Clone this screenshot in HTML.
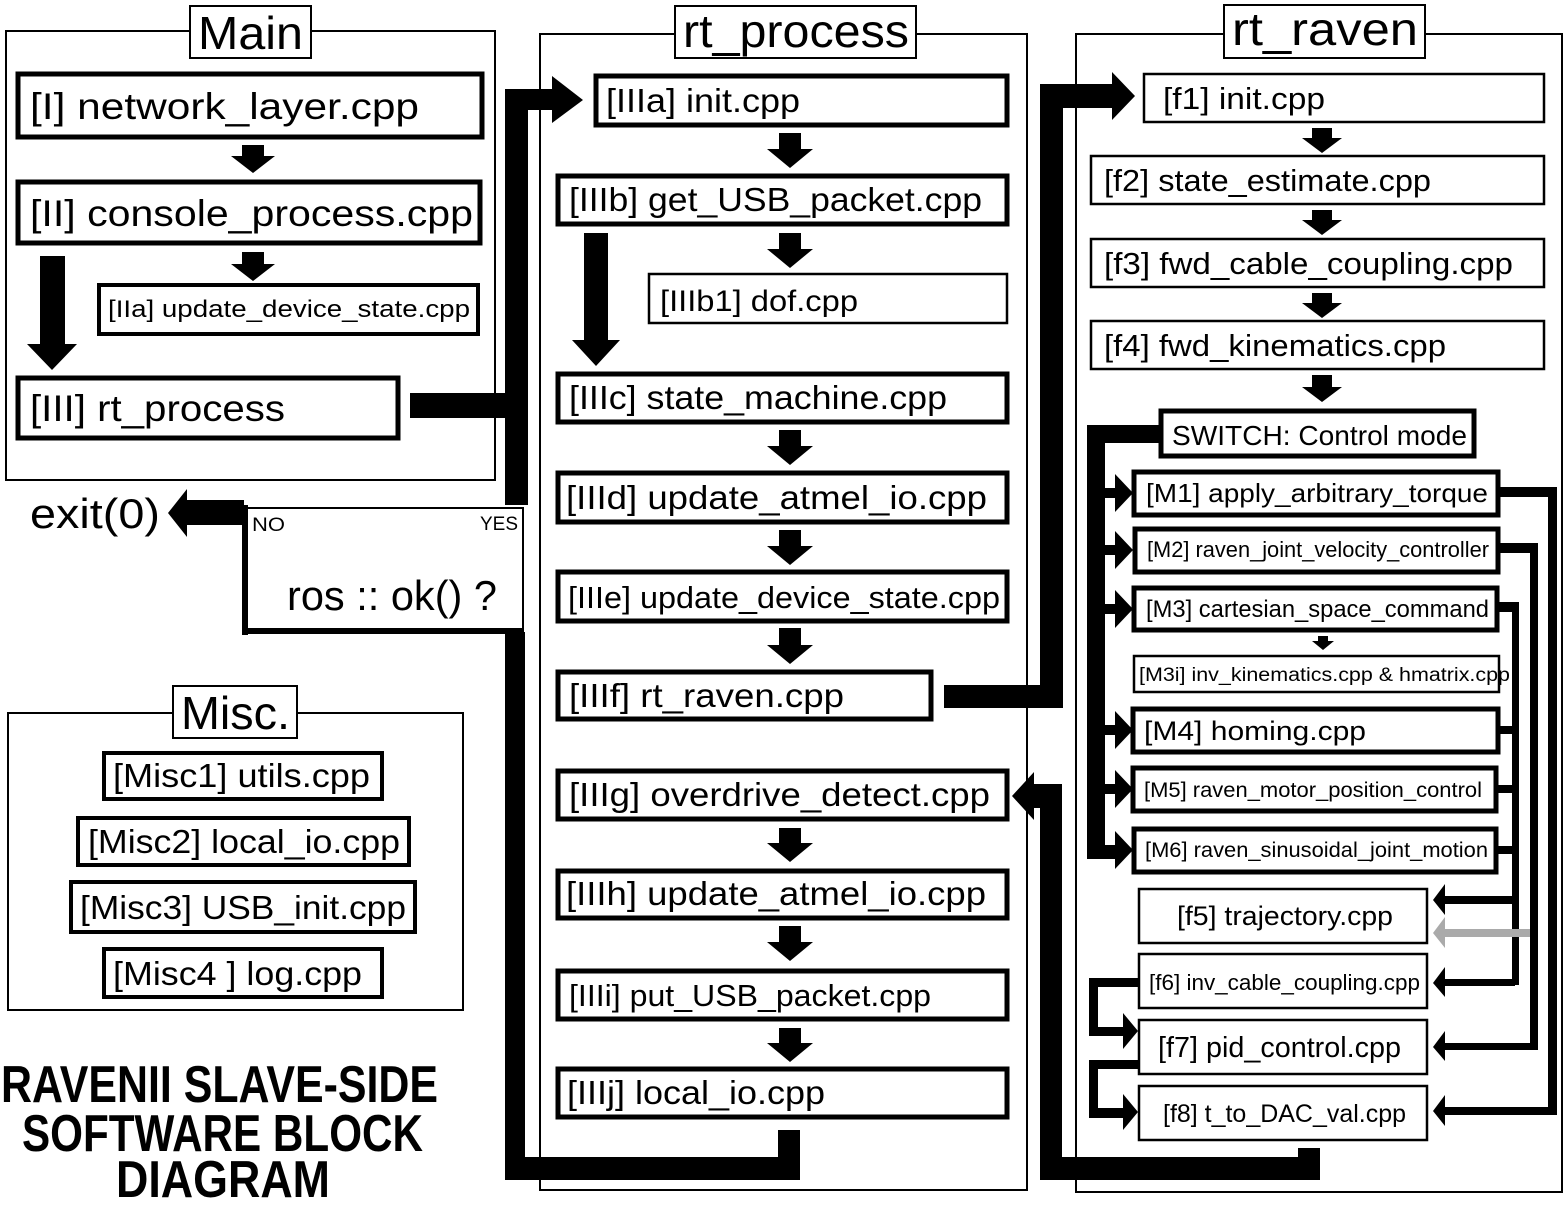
<!DOCTYPE html>
<html><head><meta charset="utf-8"><style>
html,body{margin:0;padding:0;background:#fff}
svg{display:block}
text{font-family:"Liberation Sans",sans-serif;fill:#000}
</style></head><body>
<svg width="1564" height="1206" viewBox="0 0 1564 1206" xmlns="http://www.w3.org/2000/svg">
<g fill="none" stroke="#000">
<!-- frames -->
<rect x="6" y="31" width="489" height="449" stroke-width="2"/>
<rect x="540" y="34" width="487" height="1156" stroke-width="2"/>
<rect x="1076" y="34" width="486" height="1158" stroke-width="2"/>
<rect x="8" y="713" width="455" height="297" stroke-width="2"/>
</g>
<g fill="#fff" stroke="#000" stroke-width="2">
<rect x="190" y="6" width="121" height="52"/>
<rect x="675" y="6" width="241" height="52"/>
<rect x="1224" y="5" width="201" height="53"/>
<rect x="173" y="686" width="124" height="52"/>
</g>
<g font-size="46">
<text x="198" y="49" textLength="105" lengthAdjust="spacingAndGlyphs">Main</text>
<text x="683" y="47" textLength="226" lengthAdjust="spacingAndGlyphs">rt_process</text>
<text x="1232" y="45" textLength="186" lengthAdjust="spacingAndGlyphs">rt_raven</text>
<text x="181" y="729" textLength="109" lengthAdjust="spacingAndGlyphs">Misc.</text>
</g>

<!-- thick boxes -->
<g fill="none" stroke="#000" stroke-width="5">
<rect x="18" y="74" width="464" height="63"/>
<rect x="18" y="182" width="462" height="61"/>
<rect x="18" y="378" width="380" height="60"/>
<rect x="596" y="76" width="411" height="49"/>
<rect x="558" y="176" width="449" height="48"/>
<rect x="558" y="374" width="449" height="48"/>
<rect x="558" y="473" width="449" height="49"/>
<rect x="558" y="572" width="449" height="49"/>
<rect x="558" y="672" width="373" height="47"/>
<rect x="558" y="771" width="449" height="48"/>
<rect x="558" y="871" width="449" height="47"/>
<rect x="558" y="971" width="449" height="48"/>
<rect x="558" y="1069" width="449" height="48"/>
<rect x="1161" y="411" width="313" height="45"/>
<rect x="1134" y="472" width="364" height="43"/>
<rect x="1135" y="529" width="363" height="43"/>
<rect x="1134" y="588" width="363" height="42"/>
<rect x="1133" y="709" width="365" height="43"/>
<rect x="1133" y="768" width="363" height="43"/>
<rect x="1134" y="829" width="362" height="43"/>
</g>
<g fill="none" stroke="#000" stroke-width="4">
<rect x="99" y="285" width="379" height="49"/>
<rect x="104" y="753" width="278" height="46"/>
<rect x="78" y="818" width="331" height="47"/>
<rect x="71" y="882" width="344" height="50"/>
<rect x="104" y="949" width="278" height="48"/>
</g>
<g fill="none" stroke="#000" stroke-width="2.5">
<rect x="649" y="274" width="358" height="49"/>
<rect x="1144" y="74" width="400" height="48"/>
<rect x="1091" y="156" width="453" height="48"/>
<rect x="1091" y="239" width="453" height="48"/>
<rect x="1091" y="321" width="453" height="48"/>
<rect x="1134" y="656" width="365" height="36"/>
<rect x="1139" y="889" width="288" height="54"/>
<rect x="1139" y="954" width="288" height="54"/>
<rect x="1139" y="1020" width="288" height="54"/>
<rect x="1139" y="1086" width="288" height="54"/>
</g>
<!-- ros box -->
<rect x="244" y="507" width="279" height="2" fill="#000"/>
<rect x="522" y="507" width="2" height="126" fill="#000"/>
<rect x="242" y="505" width="6" height="130" fill="#000"/>
<rect x="242" y="628" width="282" height="6" fill="#000"/>

<!-- box text -->
<g font-size="37">
<text x="30" y="119" textLength="389" lengthAdjust="spacingAndGlyphs">[I] network_layer.cpp</text>
<text x="30" y="226" textLength="443" lengthAdjust="spacingAndGlyphs">[II] console_process.cpp</text>
<text x="30" y="421" textLength="255" lengthAdjust="spacingAndGlyphs">[III] rt_process</text>
</g>
<text x="108" y="317" font-size="24" textLength="362" lengthAdjust="spacingAndGlyphs">[IIa] update_device_state.cpp</text>
<g font-size="33">
<text x="606" y="112" textLength="194" lengthAdjust="spacingAndGlyphs">[IIIa] init.cpp</text>
<text x="569" y="211" textLength="413" lengthAdjust="spacingAndGlyphs">[IIIb] get_USB_packet.cpp</text>
<text x="660" y="311" font-size="30" textLength="198" lengthAdjust="spacingAndGlyphs">[IIIb1] dof.cpp</text>
<text x="569" y="409" textLength="378" lengthAdjust="spacingAndGlyphs">[IIIc] state_machine.cpp</text>
<text x="566" y="509" textLength="421" lengthAdjust="spacingAndGlyphs">[IIId] update_atmel_io.cpp</text>
<text x="568" y="608" font-size="31" textLength="432" lengthAdjust="spacingAndGlyphs">[IIIe] update_device_state.cpp</text>
<text x="569" y="707" textLength="275" lengthAdjust="spacingAndGlyphs">[IIIf] rt_raven.cpp</text>
<text x="569" y="806" textLength="421" lengthAdjust="spacingAndGlyphs">[IIIg] overdrive_detect.cpp</text>
<text x="566" y="905" textLength="420" lengthAdjust="spacingAndGlyphs">[IIIh] update_atmel_io.cpp</text>
<text x="569" y="1006" font-size="31" textLength="362" lengthAdjust="spacingAndGlyphs">[IIIi] put_USB_packet.cpp</text>
<text x="567" y="1104" textLength="258" lengthAdjust="spacingAndGlyphs">[IIIj] local_io.cpp</text>
</g>
<g font-size="31">
<text x="1163" y="109" textLength="162" lengthAdjust="spacingAndGlyphs">[f1] init.cpp</text>
<text x="1104" y="191" textLength="327" lengthAdjust="spacingAndGlyphs">[f2] state_estimate.cpp</text>
<text x="1104" y="274" textLength="409" lengthAdjust="spacingAndGlyphs">[f3] fwd_cable_coupling.cpp</text>
<text x="1104" y="356" textLength="342" lengthAdjust="spacingAndGlyphs">[f4] fwd_kinematics.cpp</text>
</g>
<text x="1172" y="445" font-size="28" textLength="295" lengthAdjust="spacingAndGlyphs">SWITCH: Control mode</text>
<text x="1146" y="502" font-size="26" textLength="342" lengthAdjust="spacingAndGlyphs">[M1] apply_arbitrary_torque</text>
<text x="1147" y="557" font-size="22" textLength="342" lengthAdjust="spacingAndGlyphs">[M2] raven_joint_velocity_controller</text>
<text x="1146" y="617" font-size="24" textLength="343" lengthAdjust="spacingAndGlyphs">[M3] cartesian_space_command</text>
<text x="1139" y="681" font-size="19" textLength="371" lengthAdjust="spacingAndGlyphs">[M3i] inv_kinematics.cpp  &amp;  hmatrix.cpp</text>
<text x="1144" y="740" font-size="27" textLength="222" lengthAdjust="spacingAndGlyphs">[M4]  homing.cpp</text>
<text x="1144" y="797" font-size="21" textLength="338" lengthAdjust="spacingAndGlyphs">[M5] raven_motor_position_control</text>
<text x="1145" y="857" font-size="21" textLength="343" lengthAdjust="spacingAndGlyphs">[M6] raven_sinusoidal_joint_motion</text>
<text x="1177" y="925" font-size="27" textLength="216" lengthAdjust="spacingAndGlyphs">[f5] trajectory.cpp</text>
<text x="1149" y="990" font-size="22" textLength="271" lengthAdjust="spacingAndGlyphs">[f6] inv_cable_coupling.cpp</text>
<text x="1158" y="1057" font-size="29" textLength="243" lengthAdjust="spacingAndGlyphs">[f7] pid_control.cpp</text>
<text x="1163" y="1122" font-size="25" textLength="243" lengthAdjust="spacingAndGlyphs">[f8] t_to_DAC_val.cpp</text>
<g font-size="33">
<text x="113" y="787" textLength="257" lengthAdjust="spacingAndGlyphs">[Misc1] utils.cpp</text>
<text x="88" y="853" textLength="312" lengthAdjust="spacingAndGlyphs">[Misc2] local_io.cpp</text>
<text x="80" y="919" textLength="326" lengthAdjust="spacingAndGlyphs">[Misc3] USB_init.cpp</text>
<text x="113" y="985" textLength="249" lengthAdjust="spacingAndGlyphs">[Misc4 ] log.cpp</text>
</g>
<text x="30" y="528" font-size="42" textLength="130" lengthAdjust="spacingAndGlyphs">exit(0)</text>
<text x="252" y="531" font-size="19" textLength="33" lengthAdjust="spacingAndGlyphs">NO</text>
<text x="480" y="530" font-size="19" textLength="38" lengthAdjust="spacingAndGlyphs">YES</text>
<text x="287" y="610" font-size="42" textLength="210" lengthAdjust="spacingAndGlyphs">ros :: ok() ?</text>
<g font-size="52" font-weight="bold">
<text x="1" y="1102" textLength="437" lengthAdjust="spacingAndGlyphs">RAVENII SLAVE-SIDE</text>
<text x="22" y="1151" textLength="401" lengthAdjust="spacingAndGlyphs">SOFTWARE BLOCK</text>
<text x="116" y="1197" textLength="214" lengthAdjust="spacingAndGlyphs">DIAGRAM</text>
</g>

<!-- connectors -->
<g fill="#000">
<!-- small down arrows: shaft 22 wide, head 44 wide -->
<path d="M242 145h22v11h11l-22 17l-22-17h11z"/>
<path d="M242 252h22v12h11l-22 17l-22-17h11z"/>
<path d="M779 133h22v16h12l-23 19l-23-19h12z"/>
<path d="M779 233h22v16h12l-23 19l-23-19h12z"/>
<path d="M779 430h22v16h12l-23 19l-23-19h12z"/>
<path d="M779 530h22v16h12l-23 19l-23-19h12z"/>
<path d="M779 628h22v17h12l-23 19l-23-19h12z"/>
<path d="M779 828h22v15h12l-23 19l-23-19h12z"/>
<path d="M779 926h22v16h12l-23 19l-23-19h12z"/>
<path d="M779 1028h22v15h12l-23 19l-23-19h12z"/>
<path d="M1312 128h20v10h10l-20 15l-20-15h10z"/>
<path d="M1312 210h20v10h10l-20 15l-20-15h10z"/>
<path d="M1312 293h20v10h10l-20 15l-20-15h10z"/>
<path d="M1312 375h20v12h10l-20 15l-20-15h10z"/>
<path d="M1318 636h10v5h6l-11 9l-11-9h6z"/>
<!-- big down arrows -->
<path d="M30 256h25v88h12l-25 26l-25-26h13z" transform="translate(10 0)"/>
<path d="M584 233h24v107h12l-24 26l-24-26h12z"/>
<!-- left bus -->
<rect x="410" y="393" width="100" height="25"/>
<rect x="505" y="89" width="23" height="416"/>
<rect x="505" y="632" width="20" height="548"/>
<rect x="505" y="1157" width="295" height="23"/>
<rect x="778" y="1130" width="22" height="50"/>
<path d="M505 89h47v-13l31 24l-31 23v-13h-47z"/>
<!-- exit arrow -->
<path d="M244 500v25h-57v12l-19-24l19-24v11z"/>
<!-- right bus -->
<rect x="944" y="685" width="118" height="23"/>
<rect x="1040" y="84" width="23" height="624"/>
<path d="M1040 84h72v-12l23 24l-23 24v-12h-72z"/>
<rect x="1040" y="784" width="22" height="396"/>
<path d="M1062 784v22h-22v0z"/>
<path d="M1062 784h-28v-12l-22 24l22 24v-12h6v8z"/>
<rect x="1040" y="1157" width="280" height="23"/>
<rect x="1298" y="1148" width="22" height="32"/>
<!-- switch bus -->
<rect x="1087" y="425" width="74" height="18"/>
<rect x="1087" y="425" width="18" height="434"/>
<rect x="1087" y="848" width="30" height="11"/>
<path d="M1105 488h10v-14l18 19l-18 19v-14h-10z"/>
<path d="M1105 545h10v-14l18 19l-18 19v-14h-10z"/>
<path d="M1105 604h10v-14l18 19l-18 19v-14h-10z"/>
<path d="M1105 725h10v-14l18 19l-18 19v-14h-10z"/>
<path d="M1105 784h10v-14l18 19l-18 19v-14h-10z"/>
<path d="M1105 845h10v-14l18 19l-18 19v-14h-10z"/>
<!-- right verticals -->
<rect x="1499" y="487" width="58" height="10"/>
<rect x="1548" y="487" width="9" height="628"/>
<rect x="1499" y="543" width="39" height="10"/>
<rect x="1530" y="543" width="8" height="507"/>
<rect x="1497" y="602" width="22" height="10"/>
<rect x="1512" y="602" width="7" height="383"/>
<rect x="1498" y="726" width="21" height="8"/>
<rect x="1496" y="785" width="23" height="8"/>
<rect x="1496" y="846" width="23" height="8"/>
<path d="M1515 896v8h-70v11l-12-15l12-16v12z"/>
<path d="M1515 979v7h-70v11l-12-14l12-16v12z"/>
<path d="M1534 1043v7h-89v11l-12-14l12-16v12z"/>
<path d="M1552 1107v8h-107v11l-12-15l12-16v12z"/>
<path d="M1530 929v8h-85v11l-12-15l12-16v12z" fill="#aaa"/>
<!-- f6->f7, f7->f8 loops -->
<rect x="1089" y="978" width="50" height="9"/>
<rect x="1089" y="978" width="9" height="58"/>
<path d="M1089 1027h34v-14l15 18l-15 18v-13h-34z"/>
<rect x="1089" y="1060" width="50" height="9"/>
<rect x="1089" y="1060" width="9" height="58"/>
<path d="M1089 1108h34v-14l15 18l-15 18v-12h-34z"/>
</g>
</svg>
</body></html>
